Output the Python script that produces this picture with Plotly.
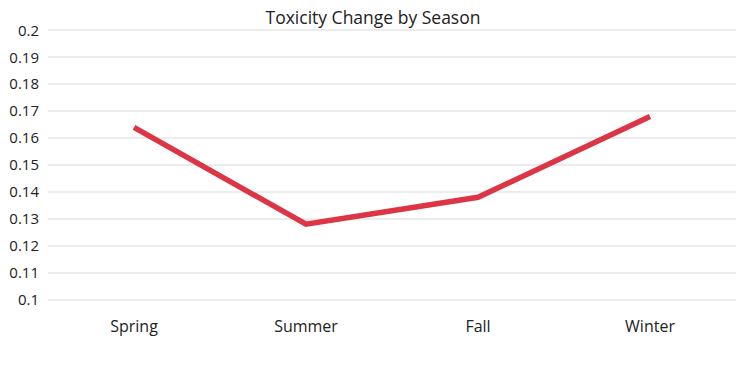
import plotly.graph_objects as go

seasons = ["Spring", "Summer", "Fall", "Winter"]
toxicity_change = [0.164, 0.128, 0.138, 0.168]
y_ticks = [0.1, 0.11, 0.12, 0.13, 0.14, 0.15, 0.16, 0.17, 0.18, 0.19, 0.2]
y_tick_labels = ["0.1", "0.11", "0.12", "0.13", "0.14", "0.15", "0.16", "0.17", "0.18", "0.19", "0.2"]

fig = go.Figure(
    go.Scatter(
        x=seasons,
        y=toxicity_change,
        mode="lines",
        line=dict(color="#dc3545", width=5.5),
        hoverinfo="x+y",
    )
)

fig.update_layout(
    width=746,
    height=366,
    margin=dict(l=48, r=10, t=29, b=65),
    paper_bgcolor="white",
    plot_bgcolor="white",
    font=dict(family="Open Sans", size=16, color="#222"),
    title=dict(text="Toxicity Change by Season", x=0.5, xanchor="center", y=0.95, yanchor="middle",
               font=dict(size=17.5, color="#222")),
    showlegend=False,
    xaxis=dict(showgrid=False, zeroline=False, showline=False, ticks="",
               tickfont=dict(size=16), range=[-0.5, 3.5], ticklabelstandoff=14),
    yaxis=dict(range=[0.0995, 0.2005], tickvals=y_ticks, ticktext=y_tick_labels,
               showgrid=True, gridcolor="#ececec", gridwidth=2, zeroline=False,
               showline=False, ticks="", tickfont=dict(size=15), ticklabelstandoff=8),
)

fig.write_html("out.html")
